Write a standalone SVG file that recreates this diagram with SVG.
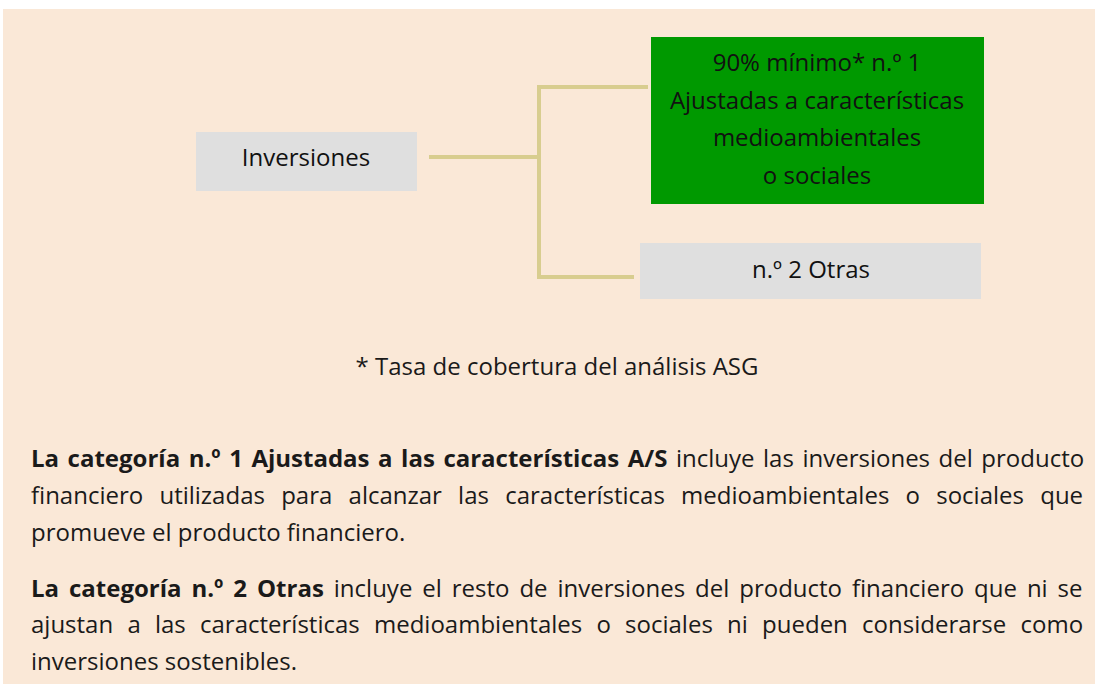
<svg xmlns="http://www.w3.org/2000/svg" width="1095" height="684" viewBox="0 0 1095 684">
<style>
.bg{fill:#fae8d7}
.gray{fill:#dfdfdf}
.green{fill:#009900}
.lbl{font-family:"Open Sans","Liberation Sans",sans-serif;font-size:24px;fill:#111;text-anchor:middle}
.conn{stroke:#d8cd8f;stroke-width:4;fill:none}
.body{font-family:"Open Sans","Liberation Sans",sans-serif;font-size:24px;fill:#1a1a1a}
.b{font-weight:bold}
</style>
<rect x="0" y="0" width="1095" height="684" fill="#ffffff"/>
<rect class="bg" x="3" y="9" width="1092" height="675"/>
<g id="connectors">
<path class="conn" d="M429 157 H539"/>
<path class="conn" d="M648 87 H539 V277 H634"/>
</g>
<g id="node-inversiones">
<rect class="gray" x="196" y="132" width="221" height="59"/>
<text class="lbl" x="306" y="166">Inversiones</text>
</g>
<g id="node-cat1">
<rect class="green" x="651" y="37" width="333" height="167"/>
<text class="lbl" x="817" y="71">90% mínimo* n.º 1</text>
<text class="lbl" x="817" y="109">Ajustadas a características</text>
<text class="lbl" x="817" y="146">medioambientales</text>
<text class="lbl" x="817" y="184">o sociales</text>
</g>
<g id="node-cat2">
<rect class="gray" x="640" y="243" width="341" height="56"/>
<text class="lbl" x="811" y="278">n.º 2 Otras</text>
</g>
<text class="body" x="557" y="375" text-anchor="middle">* Tasa de cobertura del análisis ASG</text>
<text class="body" x="31" y="467" word-spacing="2.3"><tspan class="b">La categoría n.º 1 Ajustadas a las características A/S</tspan> incluye las inversiones del producto</text>
<text class="body" x="31" y="504" word-spacing="10">financiero utilizadas para alcanzar las características medioambientales o sociales que</text>
<text class="body" x="31" y="541">promueve el producto financiero.</text>
<text class="body" x="31" y="597" word-spacing="3.7"><tspan class="b">La categoría n.º 2 Otras</tspan> incluye el resto de inversiones del producto financiero que ni se</text>
<text class="body" x="31" y="633" word-spacing="8">ajustan a las características medioambientales o sociales ni pueden considerarse como</text>
<text class="body" x="31" y="670">inversiones sostenibles.</text>
</svg>
